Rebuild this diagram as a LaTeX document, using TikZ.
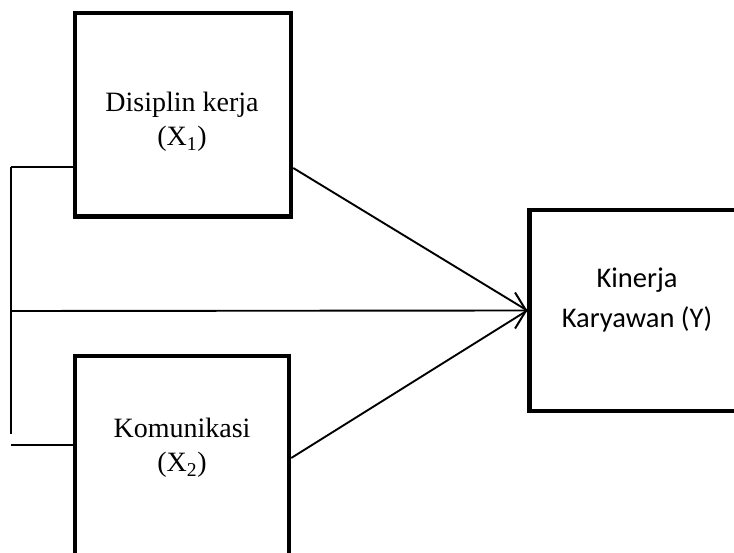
\documentclass[tikz,border=0pt]{standalone}
\usepackage{fontspec}
\setmainfont{Liberation Serif}
\newfontfamily\calib{Carlito}
\usetikzlibrary{arrows.meta}
\tikzset{
  bigbox/.style={draw=black, line width=4.5pt, inner sep=0pt, fill=none},
  serlabel/.style={align=center, inner sep=0pt, font=\fontsize{28}{34}\selectfont},
  sanlabel/.style={align=center, inner sep=0pt, font=\calib\fontsize{28.5}{40}\selectfont},
  thinline/.style={draw=black, line width=1.9pt},
  arr/.style={thinline, -{Straight Barb[length=11pt,width=36pt,line width=2pt]}}
}
\begin{document}
\begin{tikzpicture}[x=1pt,y=-1pt]
\clip (0,0) rectangle (734,553);
\fill[white] (0,0) rectangle (734,553);
% boxes
\node[bigbox, minimum width=216pt, minimum height=203.7pt] (box1) at (183,114.8) {};
\node[bigbox, minimum width=214pt, minimum height=260pt] (box2) at (182,486) {};
\node[bigbox, minimum width=240pt, minimum height=201pt] (box3) at (649.5,310.5) {};
% texts
\node[serlabel] (t1) at (182,122) {Disiplin kerja\\(X\textsubscript{1})};
\node[serlabel] (t2) at (182,448) {Komunikasi\\(X\textsubscript{2})};
\node[sanlabel] (t3) at (637,300) {Kinerja\\Karyawan (Y)};
% bracket coordinates
\coordinate (ja) at (11,167);
\coordinate (jb) at (11,434);
\coordinate (jm) at (11,311);
\coordinate (jc) at (11,445);
\coordinate (d1) at (290,168);
\coordinate (d2) at (290,458);
\draw[thinline] (ja) -- (ja -| box1.west);
\draw[thinline] (ja) -- (jb);
\draw[thinline] (jc) -- (jc -| box2.west);
\draw[arr] (jm) -- (box3.west);
\draw[thinline] (d1 -| box1.east) -- (box3.west);
\draw[thinline] (d2 -| box2.east) -- (box3.west);
\end{tikzpicture}
\end{document}
